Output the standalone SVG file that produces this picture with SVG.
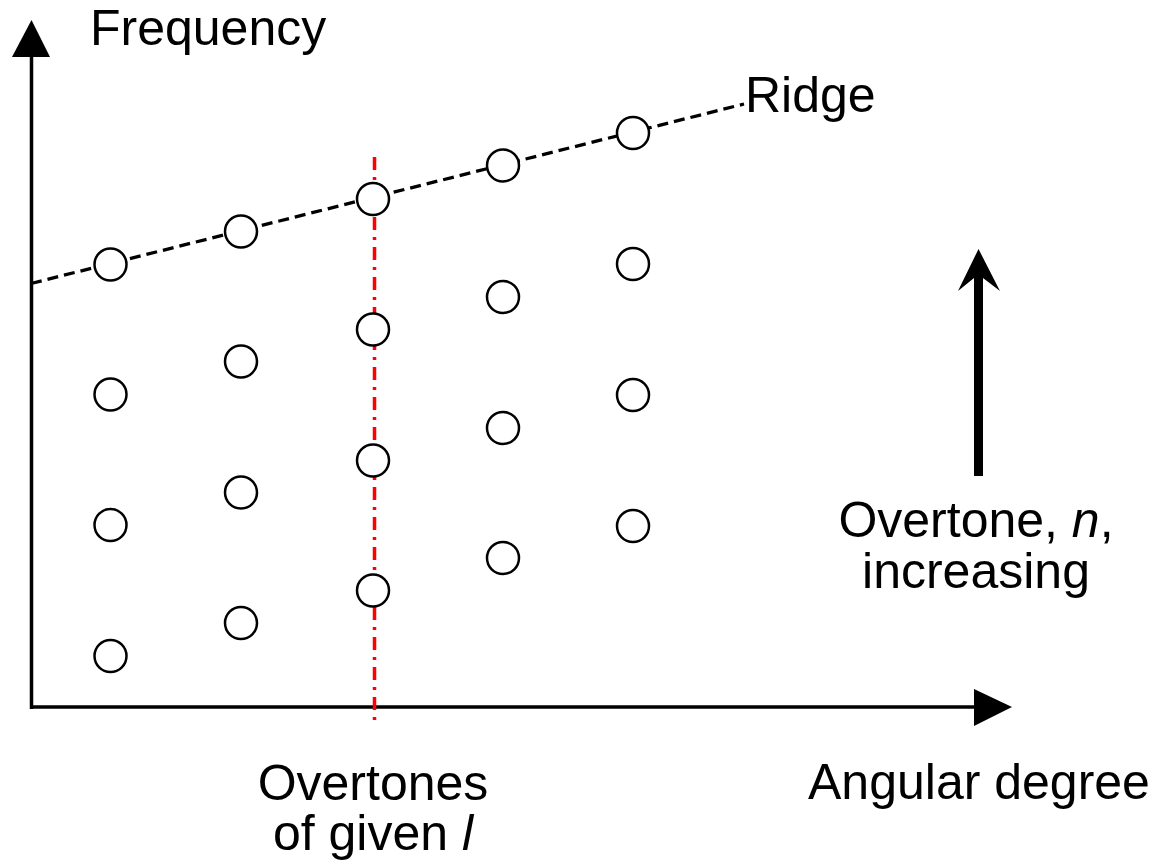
<svg xmlns="http://www.w3.org/2000/svg" width="1161" height="867" viewBox="0 0 1161 867">
  <style>
    .lbl { font-family: "Liberation Sans", Arial, sans-serif; font-size: 50px; fill: #000; }
    .mode { fill: #fff; stroke: #000; stroke-width: 2.5; }
    .axis { stroke: #000; stroke-width: 3.5; fill: none; }
    .ridge { stroke: #000; stroke-width: 3.3; fill: none; stroke-dasharray: 11 6; }
    .degree { stroke: #ff0000; stroke-width: 3.5; fill: none; stroke-dasharray: 13 7 3 7; }
  </style>
  <rect width="1161" height="867" fill="#fff"/>

  <!-- axes, ridge, degree line and overtone arrow -->
  <g id="connectors">
    <line class="axis" x1="31.5" y1="709" x2="31.5" y2="50"/>
    <polygon points="31.5,20 12,57 50,57" fill="#000"/>
    <line class="axis" x1="30" y1="707" x2="980" y2="707"/>
    <polygon points="1012,707 974,689 974,726" fill="#000"/>
    <line class="ridge" x1="31" y1="283.5" x2="744" y2="104"/>
    <line class="degree" x1="374.5" y1="157" x2="374.5" y2="720"/>
    <path d="M978.5,249 L1000,291 L983,278 L983,476 L974,476 L974,278 L958,291 Z" fill="#000"/>
  </g>

  <!-- modes, one column per angular degree -->
  <g id="col1">
    <circle class="mode" cx="110.5" cy="264.5" r="16"/>
    <circle class="mode" cx="110.5" cy="394.5" r="16"/>
    <circle class="mode" cx="110.5" cy="525" r="16"/>
    <circle class="mode" cx="110.5" cy="656" r="16"/>
  </g>
  <g id="col2">
    <circle class="mode" cx="241" cy="231.5" r="16"/>
    <circle class="mode" cx="241" cy="361.5" r="16"/>
    <circle class="mode" cx="241" cy="492.5" r="16"/>
    <circle class="mode" cx="241" cy="623" r="16"/>
  </g>
  <g id="col3">
    <circle class="mode" cx="373" cy="199" r="16"/>
    <circle class="mode" cx="373" cy="329.5" r="16"/>
    <circle class="mode" cx="373" cy="460.5" r="16"/>
    <circle class="mode" cx="373" cy="590.5" r="16"/>
  </g>
  <g id="col4">
    <circle class="mode" cx="503" cy="165.5" r="16"/>
    <circle class="mode" cx="503" cy="297" r="16"/>
    <circle class="mode" cx="503" cy="428" r="16"/>
    <circle class="mode" cx="503" cy="558" r="16"/>
  </g>
  <g id="col5">
    <circle class="mode" cx="633" cy="133" r="16"/>
    <circle class="mode" cx="633" cy="264" r="16"/>
    <circle class="mode" cx="633" cy="395" r="16"/>
    <circle class="mode" cx="633" cy="526" r="16"/>
  </g>

  <!-- labels -->
  <g id="labels">
    <text class="lbl" x="90" y="45">Frequency</text>
    <text class="lbl" x="745" y="112">Ridge</text>
    <text class="lbl" x="976" y="537" text-anchor="middle">Overtone, <tspan font-style="italic">n</tspan>,</text>
    <text class="lbl" x="976" y="588" text-anchor="middle">increasing</text>
    <text class="lbl" x="373" y="800" text-anchor="middle">Overtones</text>
    <text class="lbl" x="373" y="850" text-anchor="middle">of given <tspan font-style="italic">l</tspan></text>
    <text class="lbl" x="808" y="799">Angular degree</text>
  </g>
</svg>
